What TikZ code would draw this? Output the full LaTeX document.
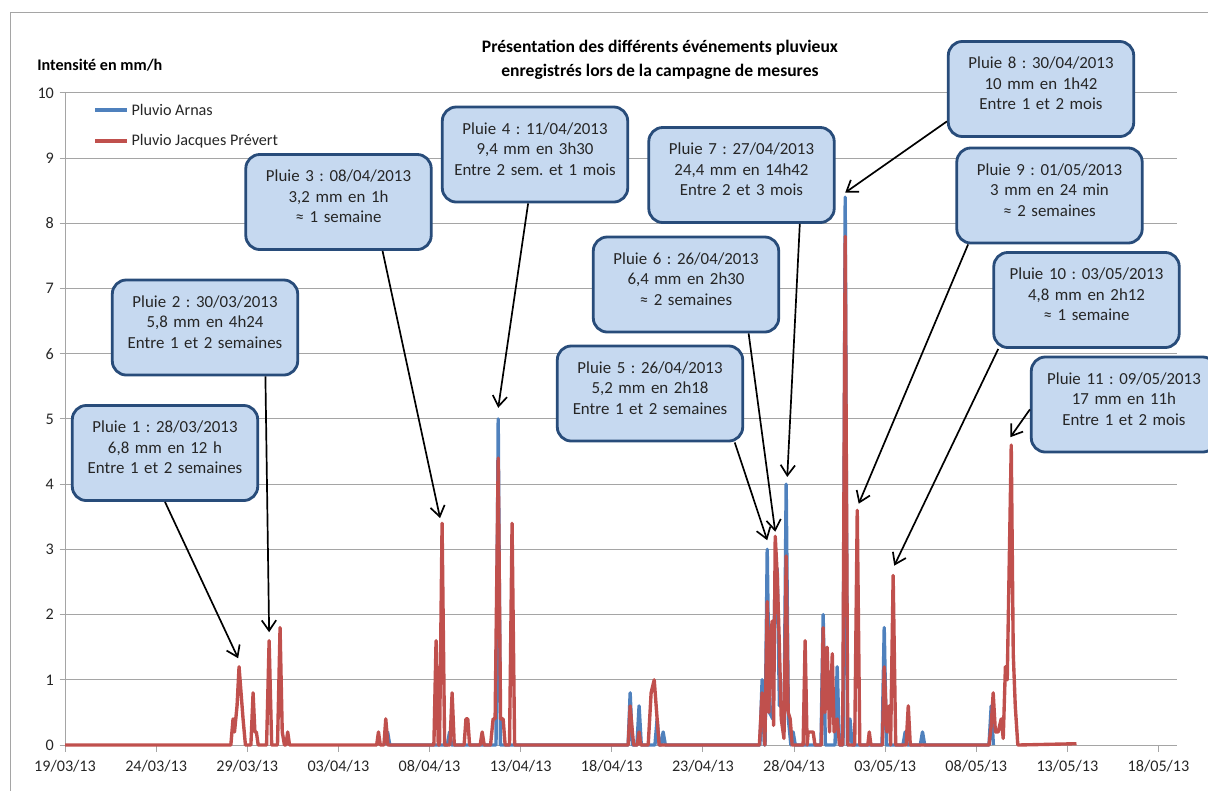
\documentclass[tikz,border=0pt]{standalone}
\usepackage{fontspec}
\setmainfont{Carlito}
\frenchspacing
\usetikzlibrary{positioning,arrows.meta}

\definecolor{arnasblue}{RGB}{79,129,189}
\definecolor{prevertred}{RGB}{192,80,77}
\definecolor{boxfill}{RGB}{198,217,240}
\definecolor{boxline}{RGB}{40,76,122}
\definecolor{gridgray}{RGB}{165,165,165}

\tikzset{
  callout/.style={draw=boxline, line width=2pt, fill=boxfill, rounded corners=0.35cm,
    minimum width=4.6cm, minimum height=2.375cm, text width=4.4cm, align=center,
    font=\fontsize{12}{14.6}\selectfont, text=black!85,
    execute at end node={\par\vspace{8pt}}},
  pointer/.style={line width=1.2pt, -{Straight Barb[length=2.6mm,width=3.6mm]}},
  gridline/.style={draw=gridgray, line width=0.7pt},
  arnas/.style={arnasblue, line width=2.4pt, line join=round},
  prevert/.style={prevertred, line width=2.4pt, line join=round},
  ticklab/.style={font=\fontsize{11.5}{13}\selectfont, text=black!85, inner sep=0pt}
}

\begin{document}
\begin{tikzpicture}[x=0.025cm,y=-0.025cm]
    \useasboundingbox (0,0) rectangle (1208,791);
    \clip (0,0) rectangle (1208,791);
    \draw[gridline] (10,791) -- (10,12) -- (1208,12);

    \node[font=\bfseries\fontsize{12.5}{17}\selectfont, align=center] (titre) at (660,60)
      {Présentation des différents événements pluvieux\\enregistrés lors de la campagne de mesures};
    \node[font=\bfseries\fontsize{11.5}{13}\selectfont, anchor=west, inner sep=0pt] (unite) at (37,65) {Intensité en mm/h};

    % graphe (jours depuis le 19/03/13, mm/h)
    \begin{scope}[shift={(65,745)}, x=0.4555cm, y=1.63cm]
    \foreach \v in {1,...,10}
      \draw[gridline] (-0.3,\v) -- (61,\v);
    \draw[gridline] (-0.3,0) -- (61,0);
    \draw[gridline] (0,0) -- (0,10);
    \foreach \v in {0,...,10}
      \node[ticklab, anchor=east, xshift=-0.27cm] (y\v) at (0,\v) {\v};
    \foreach \lab [count=\i from 0] in {19/03/13,24/03/13,29/03/13,03/04/13,08/04/13,13/04/13,18/04/13,23/04/13,28/04/13,03/05/13,08/05/13,13/05/13,18/05/13} {
      \draw[gridline] (5*\i,0) -- (5*\i,-0.1);
      \node[ticklab, yshift=-0.53cm] (x\i) at (5*\i,0) {\lab};
    }

    \draw[arnas] plot coordinates {(17.58,0) (17.7,0.2) (17.82,0) (20.98,0) (21.1,0.2) (21.22,0)
      (23.65,0) (23.77,5.0) (23.89,0) (30.9,0) (31.01,0.8) (31.13,0) (31.38,0) (31.5,0.6) (31.62,0)
      (32.37,0) (32.49,0.4) (32.6,0) (32.7,0) (32.82,0.2) (32.94,0)
      (38.13,0) (38.25,1.0) (38.37,0) (38.41,0) (38.53,3.0) (38.65,0.5) (38.84,0.4) (38.96,2.6) (39.08,2.7)
      (39.2,0.6) (39.35,0.6) (39.45,0.2) (39.57,4.0) (39.69,0.4) (39.83,0) (39.95,0.2) (40.07,0)
      (41.48,0) (41.6,2.0) (41.72,0) (42.25,0) (42.37,1.2) (42.49,0)
      (42.69,0) (42.81,8.4) (42.93,0) (42.95,0) (43.07,0.4) (43.19,0)
      (44.83,0) (44.95,1.8) (45.07,0) (45.98,0) (46.1,0.2) (46.22,0) (46.93,0) (47.05,0.2) (47.17,0)
      (50.7,0) (50.82,0.6) (50.94,0)};
    \draw[prevert] plot coordinates {(0,0) (9.1,0) (9.22,0.4) (9.3,0.2) (9.44,0.6) (9.55,1.2) (9.66,0.8)
      (9.77,0.4) (9.9,0) (10.2,0) (10.32,0.8) (10.42,0.2) (10.5,0.2) (10.6,0)
      (11.06,0) (11.2,1.6) (11.34,0) (11.66,0) (11.8,1.8) (11.92,0.2) (12.04,0) (12.12,0) (12.22,0.2) (12.32,0)
      (17.1,0) (17.2,0.2) (17.3,0) (17.5,0) (17.6,0.4) (17.72,0)
      (20.24,0) (20.36,1.6) (20.48,0) (20.55,0) (20.69,3.4) (20.83,0) (21.12,0) (21.24,0.8) (21.36,0)
      (21.9,0) (22.0,0.4) (22.1,0.4) (22.2,0) (22.78,0) (22.89,0.2) (23.0,0)
      (23.35,0) (23.49,0.4) (23.6,0.4) (23.77,4.4) (23.9,0.4) (24.04,0.4) (24.15,0)
      (24.39,0) (24.53,3.4) (24.67,0)
      (30.9,0) (31.01,0.6) (31.1,0.3) (31.2,0) (31.4,0) (31.5,0.2) (31.6,0)
      (32.0,0) (32.16,0.8) (32.33,1.0) (32.49,0.4) (32.6,0)
      (38.1,0) (38.25,0.8) (38.4,0) (38.53,2.2) (38.62,0.5) (38.69,1.5) (38.8,1.9) (38.88,0.3)
      (38.97,3.2) (39.08,2.6) (39.19,1.6) (39.3,0.4) (39.45,0.1) (39.57,2.9) (39.68,0.5) (39.79,0.4) (39.9,0)
      (40.5,0) (40.61,1.6) (40.72,0) (40.78,0.2) (41.05,0.2) (41.15,0)
      (41.5,0) (41.6,1.8) (41.7,0.5) (41.82,1.5) (41.95,0.2) (42.1,1.4) (42.2,0.2) (42.37,0.4) (42.5,0)
      (42.67,0) (42.81,7.8) (42.95,0) (43.33,0) (43.47,3.6) (43.61,0) (44.05,0) (44.13,0.2) (44.22,0)
      (44.85,0) (44.95,1.2) (45.1,0.2) (45.22,0.6) (45.3,0) (45.44,2.6) (45.58,0)
      (46.15,0) (46.27,0.6) (46.38,0)
      (50.7,0) (50.82,0.3) (50.93,0.8) (51.05,0.2) (51.2,0.2) (51.37,0.4) (51.48,0.1) (51.6,1.2)
      (51.7,1.0) (51.92,4.6) (52.03,1.4) (52.14,0.6) (52.28,0) (55.5,0.02)};

    \coordinate (t1) at (9.5,1.33);
    \coordinate (t2) at (11.2,1.73);
    \coordinate (t3) at (20.58,3.48);
    \coordinate (t4) at (23.77,5.17);
    \coordinate (t5) at (38.53,3.14);
    \coordinate (t6) at (38.97,3.27);
    \coordinate (t7) at (39.63,4.11);
    \coordinate (t8) at (42.81,8.47);
    \coordinate (t9) at (43.55,3.7);
    \coordinate (t10) at (45.5,2.75);
    \coordinate (t11) at (51.87,4.72);
    \end{scope}

    % legende
    \draw[arnas] (95,110) -- (127,110) node[right, text=black!85, inner xsep=2pt, font=\fontsize{11.5}{13}\selectfont] (legA) {Pluvio Arnas};
    \draw[prevert] (95,141) -- (127,141) node[right, text=black!85, inner xsep=2pt, font=\fontsize{11.5}{13}\selectfont] (legP) {Pluvio Jacques Prévert};

    % pluies
    \node[callout] (b1) at (165,453) {Pluie 1 : 28/03/2013\\6,8 mm en 12 h\\Entre 1 et 2 semaines};
    \node[callout] (b2) at (205,327.5) {Pluie 2 : 30/03/2013\\5,8 mm en 4h24\\Entre 1 et 2 semaines};
    \node[callout] (b3) at (338.5,202) {Pluie 3 : 08/04/2013\\3,2 mm en 1h\\≈ 1 semaine};
    \node[callout] (b4) at (535,154.5) {Pluie 4 : 11/04/2013\\9,4 mm en 3h30\\Entre 2 sem. et 1 mois};
    \node[callout] (b5) at (650,393.5) {Pluie 5 : 26/04/2013\\5,2 mm en 2h18\\Entre 1 et 2 semaines};
    \node[callout] (b6) at (686,284.5) {Pluie 6 : 26/04/2013\\6,4 mm en 2h30\\≈ 2 semaines};
    \node[callout] (b7) at (741.5,175) {Pluie 7 : 27/04/2013\\24,4 mm en 14h42\\Entre 2 et 3 mois};
    \node[callout] (b8) at (1041,89) {Pluie 8 : 30/04/2013\\10 mm en 1h42\\Entre 1 et 2 mois};
    \node[callout] (b9) at (1049.5,195.5) {Pluie 9 : 01/05/2013\\3 mm en 24 min\\≈ 2 semaines};
    \node[callout] (b10) at (1086.5,300) {Pluie 10 : 03/05/2013\\4,8 mm en 2h12\\≈ 1 semaine};
    \node[callout] (b11) at (1124,404.5) {Pluie 11 : 09/05/2013\\17 mm en 11h\\Entre 1 et 2 mois};

    \draw[pointer] (b1.south) -- (t1);
    \draw[pointer] (b2.-39) -- (t2);
    \draw[pointer] (b3.-48) -- (t3);
    \draw[pointer] (b4.-98) -- (t4);
    \draw[pointer] (b5.-30) -- (t5);
    \draw[pointer] (b6.-38) -- (t6);
    \draw[pointer] (b7.-40) -- (t7);
    \draw[pointer] (b8.199) -- (t8);
    \draw[pointer] (b9.211) -- (t9);
    \draw[pointer] (b10.209) -- (t10);
    \draw[pointer] (b11.183) -- (t11);
\end{tikzpicture}
\end{document}
